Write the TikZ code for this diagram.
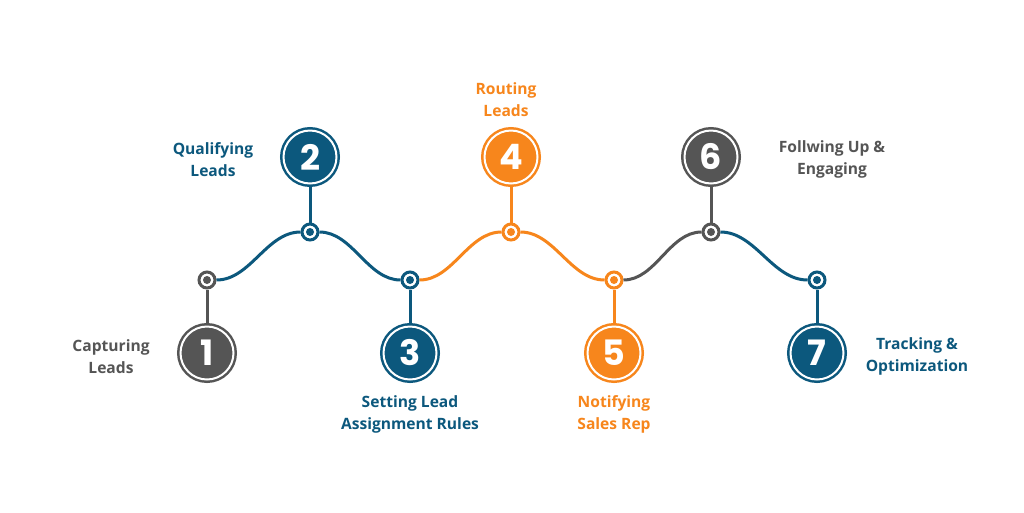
\documentclass[tikz,border=0pt]{standalone}
\usepackage{fontspec}
\setmainfont{Open Sans}
\newfontfamily\digitfont{Poppins}
\definecolor{cblue}{HTML}{0C587D}
\definecolor{corange}{HTML}{F7861C}
\definecolor{cgray}{HTML}{555555}
\tikzset{
  bignode/.style={circle, fill=#1, draw=#1, double=white, double distance=2pt, line width=2.5pt,
    minimum size=53pt, inner sep=0pt, outer sep=3.5pt, text=white,
    font=\digitfont\bfseries\fontsize{35}{35}\selectfont},
  smallnode/.style={circle, fill=white, draw=#1, line width=3pt, minimum size=16pt, inner sep=0pt,
    path picture={\fill[#1] (path picture bounding box.center) circle (4pt);}},
  stem/.style={draw=#1, line width=3pt},
  wave/.style={draw=#1, line width=3pt, out=0, in=180, looseness=0.9},
  lbl/.style={text=#1, align=center, font=\bfseries\fontsize{15.6}{21.5}\selectfont, inner sep=0pt}
}
\begin{document}
\begin{tikzpicture}[x=1pt, y=-1pt]
\useasboundingbox[fill=white] (0,0) rectangle (1024,512);
% small nodes on the wave
\node[smallnode=cgray]   (s1) at (207,280) {};
\node[smallnode=cblue]   (s2) at (310,232) {};
\node[smallnode=cblue]   (s3) at (410,280) {};
\node[smallnode=corange] (s4) at (511,232) {};
\node[smallnode=corange] (s5) at (614,280) {};
\node[smallnode=cgray]   (s6) at (711,232) {};
\node[smallnode=cblue]   (s7) at (817,280) {};
% big numbered nodes
\node[bignode=cgray]   (n1) at (207,353) {1};
\node[bignode=cblue]   (n2) at (310,157) {2};
\node[bignode=cblue]   (n3) at (410,353) {3};
\node[bignode=corange] (n4) at (511,157) {4};
\node[bignode=corange] (n5) at (614,353) {5};
\node[bignode=cgray]   (n6) at (711,157) {6};
\node[bignode=cblue]   (n7) at (817,353) {7};
% labels
\node[lbl=cgray]   (l1) at (111,356.5) {Capturing\\Leads};
\node[lbl=cblue]   (l2) at (213,159.5) {Qualifying\\Leads};
\node[lbl=cblue]   (l3) at (410,414.5) {Setting Lead\\Assignment Rules};
\node[lbl=corange] (l4) at (506,99.5)  {Routing\\Leads};
\node[lbl=corange] (l5) at (614,414.5) {Notifying\\Sales Rep};
\node[lbl=cgray]   (l6) at (832,159.5) {Follwing Up \&\\Engaging};
\node[lbl=cblue]   (l7) at (917,356.5) {Tracking \&\\Optimization};
% wave
\draw[wave=cblue]   (s1) to (s2);
\draw[wave=cblue]   (s2) to (s3);
\draw[wave=corange] (s3) to (s4);
\draw[wave=corange] (s4) to (s5);
\draw[wave=cgray]   (s5) to (s6);
\draw[wave=cblue]   (s6) to (s7);
% stems
\draw[stem=cgray]   (s1) -- (n1);
\draw[stem=cblue]   (s2) -- (n2);
\draw[stem=cblue]   (s3) -- (n3);
\draw[stem=corange] (s4) -- (n4);
\draw[stem=corange] (s5) -- (n5);
\draw[stem=cgray]   (s6) -- (n6);
\draw[stem=cblue]   (s7) -- (n7);
\end{tikzpicture}
\end{document}
